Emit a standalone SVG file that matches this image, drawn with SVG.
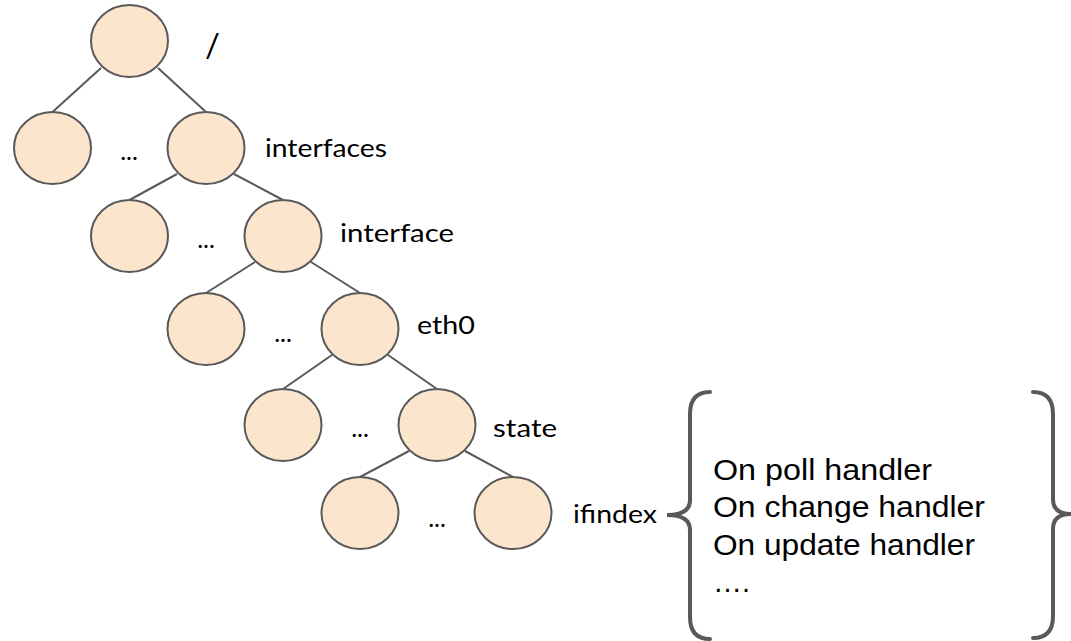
<svg xmlns="http://www.w3.org/2000/svg" width="1071" height="641" viewBox="0 0 1071 641">
<style>
.n{fill:#FCE5CD;stroke:#595959;stroke-width:2}
.e{stroke:#595959;stroke-width:2;fill:none}
.lbl{font-family:Lato,"Open Sans",sans-serif;font-size:25px;fill:#000}
.dots{font-family:Lato,"Open Sans",sans-serif;font-size:25px;fill:#000;text-anchor:middle}
.h{font-family:"Liberation Sans",Arial,sans-serif;font-size:29px;fill:#000}
.br{stroke:#595959;stroke-width:4;fill:none;stroke-linecap:round}
</style>
<rect width="1071" height="641" fill="#fff"/>
<g id="connectors">
<line class="e" x1="101" y1="68" x2="52.5" y2="112"/>
<line class="e" x1="158" y1="68" x2="206" y2="112"/>
<line class="e" x1="177" y1="174" x2="129.5" y2="200"/>
<line class="e" x1="234" y1="174" x2="283" y2="200"/>
<line class="e" x1="255" y1="262" x2="206" y2="293"/>
<line class="e" x1="311" y1="262" x2="360" y2="293"/>
<line class="e" x1="332" y1="355" x2="283" y2="389"/>
<line class="e" x1="388" y1="355" x2="437" y2="389"/>
<line class="e" x1="409" y1="451" x2="360" y2="477"/>
<line class="e" x1="465" y1="451" x2="513" y2="477"/>
</g>
<g id="root"><ellipse class="n" cx="129.5" cy="41" rx="38.5" ry="36"/><text class="lbl" x="205" y="57" style="font-size:33px">/</text></g>
<g id="l1a"><ellipse class="n" cx="52.5" cy="148" rx="38.5" ry="36"/></g>
<g id="interfaces"><ellipse class="n" cx="206" cy="148" rx="38.5" ry="36"/><text class="lbl" x="265" y="157" textLength="122" lengthAdjust="spacingAndGlyphs">interfaces</text></g>
<text class="dots" x="129" y="160">...</text>
<g id="l2a"><ellipse class="n" cx="129.5" cy="236" rx="38.5" ry="36"/></g>
<g id="interface"><ellipse class="n" cx="283" cy="236" rx="38.5" ry="36"/><text class="lbl" x="340" y="242" textLength="114" lengthAdjust="spacingAndGlyphs">interface</text></g>
<text class="dots" x="206" y="248">...</text>
<g id="l3a"><ellipse class="n" cx="206" cy="329" rx="38.5" ry="36"/></g>
<g id="eth0"><ellipse class="n" cx="360" cy="329" rx="38.5" ry="36"/><text class="lbl" x="417" y="334" textLength="58" lengthAdjust="spacingAndGlyphs">eth0</text></g>
<text class="dots" x="283" y="342">...</text>
<g id="l4a"><ellipse class="n" cx="283" cy="425" rx="38.5" ry="36"/></g>
<g id="state"><ellipse class="n" cx="437" cy="425" rx="38.5" ry="36"/><text class="lbl" x="493" y="437" textLength="64" lengthAdjust="spacingAndGlyphs">state</text></g>
<text class="dots" x="360" y="437">...</text>
<g id="l5a"><ellipse class="n" cx="360" cy="513" rx="38.5" ry="36"/></g>
<g id="ifindex"><ellipse class="n" cx="513" cy="513" rx="38.5" ry="36"/><text class="lbl" x="573" y="523" textLength="84" lengthAdjust="spacingAndGlyphs">ifindex</text></g>
<text class="dots" x="437" y="527">...</text>
<g id="handlers">
<path class="br" d="M710,392 Q690,392 690,414 L690,500 Q690,515 667,515 Q690,515 690,530 L690,617 Q690,639 710,639"/>
<path class="br" d="M1033,392 Q1053,392 1053,414 L1053,499 Q1053,514 1071,514 Q1053,514 1053,529 L1053,616 Q1053,638 1033,638"/>
<text class="h" x="713" y="480" textLength="219" lengthAdjust="spacingAndGlyphs">On poll handler</text>
<text class="h" x="713" y="517" textLength="272" lengthAdjust="spacingAndGlyphs">On change handler</text>
<text class="h" x="713" y="555" textLength="262" lengthAdjust="spacingAndGlyphs">On update handler</text>
<text class="h" x="713" y="592">….</text>
</g>
</svg>
